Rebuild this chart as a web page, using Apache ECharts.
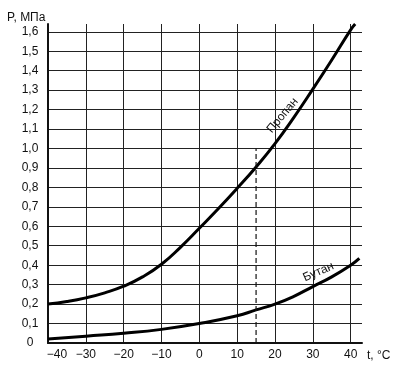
<!DOCTYPE html>
<html>
<head>
<meta charset="utf-8">
<script src="https://cdn.jsdelivr.net/npm/echarts@6/dist/echarts.min.js"></script>
<style>html,body{margin:0;padding:0;background:#fff}#c{width:400px;height:367px}</style>
</head>
<body>
<div id="c"></div>
<script>
// Temperature, °C
var propaneT = [-40, -35, -30, -25, -20, -15, -10, -5, 0, 5, 10, 15, 20, 25, 30, 35, 40, 41.2];
// Pressure, MPa
var propaneP = [0.20, 0.213, 0.232, 0.258, 0.292, 0.34, 0.405, 0.492, 0.59, 0.69, 0.795, 0.905, 1.025, 1.16, 1.305, 1.455, 1.61, 1.64];
var butaneT = [-40, -30, -20, -10, 0, 10, 15, 20, 25, 30, 35, 40, 42.3];
var butaneP = [0.02, 0.035, 0.05, 0.07, 0.10, 0.14, 0.17, 0.20, 0.24, 0.29, 0.34, 0.40, 0.435];
var markerT = [15, 15];
var markerP = [0, 1.0];
var xTicks = [-40, -30, -20, -10, 0, 10, 20, 30, 40];
var yTicks = [0, 0.1, 0.2, 0.3, 0.4, 0.5, 0.6, 0.7, 0.8, 0.9, 1.0, 1.1, 1.2, 1.3, 1.4, 1.5, 1.6];

function zip(a, b) { return a.map(function (v, i) { return [v, b[i]]; }); }
var FONT = 'Liberation Sans';

var chart = echarts.init(document.getElementById('c'), null, {renderer: 'canvas'});
chart.setOption({
  animation: false,
  backgroundColor: '#fff',
  title: {
    text: 'P, МПа', left: 2, top: 7,
    textStyle: {fontFamily: FONT, fontSize: 12, fontWeight: 'normal', color: '#111'}
  },
  grid: {left: 48, right: 38, top: 24, bottom: 24, containLabel: false},
  xAxis: {
    type: 'value', min: -40, max: 43, interval: 10,
    name: 't, °C', nameLocation: 'end', nameGap: 5,
    nameTextStyle: {fontFamily: FONT, fontSize: 12, color: '#111', align: 'left', verticalAlign: 'top', padding: [7, 0, 0, 0]},
    axisLine: {show: true, onZero: false, lineStyle: {color: '#111', width: 2}},
    axisTick: {show: false},
    axisLabel: {
      margin: 6, fontFamily: FONT, fontSize: 12, color: '#111',
      formatter: function (v) {
        if (xTicks.indexOf(v) < 0) return '';
        var s = String(Math.abs(v));
        if (v < 0) s = '\u2212' + s;
        return v === -40 ? '{a|' + s + '}' : s;
      },
      rich: {a: {fontFamily: FONT, fontSize: 12, color: '#111', padding: [0, 0, 0, 18]}}
    },
    splitLine: {show: true, showMinLine: false, showMaxLine: false, lineStyle: {color: '#222', width: 1}}
  },
  yAxis: {
    type: 'value', min: 0, max: 1.64, interval: 0.1,
    axisLine: {show: true, onZero: false, lineStyle: {color: '#111', width: 2}},
    axisTick: {show: false},
    axisLabel: {
      margin: 18, align: 'center', fontFamily: FONT, fontSize: 12, color: '#111',
      formatter: function (v) {
        var r = Math.round(v * 10) / 10;
        if (Math.abs(r - v) > 1e-6 || r > 1.6) return '';
        return r === 0 ? '0' : r.toFixed(1).replace('.', ',');
      }
    },
    splitLine: {show: true, showMinLine: false, showMaxLine: false, lineStyle: {color: '#222', width: 1}}
  },
  series: [
    {
      name: 'Пропан', type: 'line', data: zip(propaneT, propaneP),
      smooth: true, showSymbol: false, symbol: 'none',
      lineStyle: {color: '#000', width: 3},
      markPoint: {
        symbol: 'circle', symbolSize: 0, silent: true,
        data: [{coord: [22, 1.17]}],
        label: {show: true, position: 'inside', formatter: 'Пропан', rotate: 50,
          fontFamily: FONT, fontSize: 12, color: '#111'}
      }
    },
    {
      name: 'Бутан', type: 'line', data: zip(butaneT, butaneP),
      smooth: true, showSymbol: false, symbol: 'none',
      lineStyle: {color: '#000', width: 3},
      markPoint: {
        symbol: 'circle', symbolSize: 0, silent: true,
        data: [{coord: [31.5, 0.365]}],
        label: {show: true, position: 'inside', formatter: 'Бутан', rotate: 24,
          fontFamily: FONT, fontSize: 12, color: '#111'}
      }
    },
    {
      name: 'marker', type: 'line', data: zip(markerT, markerP),
      showSymbol: false, symbol: 'none',
      lineStyle: {color: '#111', width: 1.2, type: [5, 3]}
    }
  ]
});
</script>
</body>
</html>
